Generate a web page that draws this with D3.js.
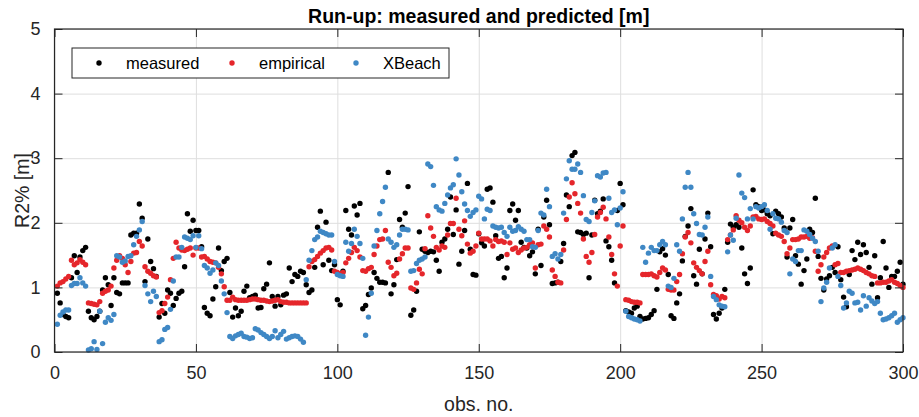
<!DOCTYPE html>
<html>
<head>
<meta charset="utf-8">
<title>Run-up: measured and predicted</title>
<script src="https://cdn.jsdelivr.net/npm/d3@7"></script>
<style>
  body { margin: 0; background: #fff; font-family: "Liberation Sans", Arial, sans-serif; }
  .grid line { stroke: #dedede; stroke-width: 1; }
  .grid path { display: none; }
  .ax path { display: none; }
  .ax line { stroke: #262626; }
  .ax text { font-size: 18px; fill: #262626; }
</style>
</head>
<body>
<div id="chart"></div>
<script>
// values, obs 1..300
var measured = [
  0.91,0.76,0.58,0.55,0.53,1.15,1.49,1.23,1.47,1.57,
  1.62,0.63,0.53,0.50,0.55,0.63,0.96,1.15,1.04,0.72,
  1.15,0.92,0.90,1.07,1.07,1.07,1.81,1.84,1.84,2.29,
  2.07,1.09,1.75,1.40,1.29,1.17,0.54,0.75,0.60,0.96,
  0.91,0.72,0.83,0.91,0.94,1.32,2.14,1.87,2.04,1.88,
  1.88,1.63,0.69,0.60,0.56,0.82,1.01,1.61,1.26,1.40,
  1.45,0.92,0.54,0.68,0.56,0.63,0.94,1.02,0.84,0.86,
  0.88,0.68,0.69,0.98,1.05,1.38,0.86,0.71,0.86,0.73,
  0.88,0.90,1.30,1.09,1.20,1.17,1.25,1.23,1.04,0.92,
  0.96,1.31,1.93,2.18,1.35,2.01,1.42,1.26,1.35,0.81,
  0.73,1.25,2.19,1.90,1.81,2.26,2.12,2.30,0.67,0.72,
  0.89,0.99,1.23,1.14,1.08,1.08,1.07,2.78,0.90,1.04,
  1.43,2.05,1.93,2.15,2.56,0.57,0.65,0.94,1.86,1.59,
  1.56,1.54,1.56,1.55,1.42,1.25,1.70,1.75,1.90,2.40,
  1.82,2.20,1.36,1.56,1.88,2.61,1.59,1.20,1.19,1.83,
  1.69,1.64,2.52,2.54,2.32,1.80,1.45,1.48,1.15,1.30,
  2.19,2.29,2.04,2.19,1.70,1.62,1.61,1.49,1.55,1.21,
  1.90,1.34,2.09,2.35,1.97,1.06,1.07,1.08,1.40,1.68,
  2.43,2.25,3.04,3.09,1.86,1.85,1.82,1.84,1.15,1.81,
  2.35,2.14,2.18,2.37,1.72,1.63,1.42,1.07,2.19,2.61,
  2.28,0.64,0.62,0.60,0.68,0.71,0.55,0.51,0.52,0.53,
  0.58,0.64,0.97,1.55,1.60,1.50,1.20,0.56,0.52,0.76,
  0.90,1.41,1.79,1.95,2.22,1.18,1.05,1.59,1.21,1.75,
  2.15,1.63,0.58,0.51,0.60,0.68,0.97,1.70,1.98,1.93,
  1.97,1.93,1.61,1.21,1.06,1.30,2.51,2.28,2.25,2.19,
  2.20,2.14,2.11,1.83,2.18,2.14,2.09,1.92,1.47,1.92,
  2.05,1.49,1.36,1.05,1.26,1.44,1.90,1.85,2.38,1.48,
  1.14,0.96,1.13,1.18,1.31,1.23,1.63,1.12,0.85,0.70,
  1.20,1.57,1.43,1.70,1.51,1.66,1.54,1.31,1.05,1.49,
  0.84,1.15,1.71,1.30,1.00,1.17,1.17,1.25,1.39,1.05
];
var empirical = [
  1.02,1.07,1.09,1.13,1.17,1.42,1.35,1.38,1.43,1.39,
  1.35,0.76,0.75,0.74,0.73,0.78,0.91,0.94,0.96,1.02,
  1.30,1.42,1.49,1.45,1.35,1.23,1.40,1.53,1.54,1.71,
  1.64,1.32,1.25,1.22,1.18,1.16,0.61,0.64,0.75,0.85,
  1.12,1.45,1.70,1.61,1.58,1.57,1.59,1.61,1.50,1.61,
  1.61,1.47,1.48,1.44,1.40,1.39,1.38,1.31,1.21,1.01,
  0.80,0.80,0.85,0.81,0.80,0.80,0.80,0.80,0.81,0.82,
  0.82,0.81,0.80,0.80,0.79,0.78,0.79,0.80,0.81,0.78,
  0.77,0.77,0.76,0.76,0.76,0.76,0.76,0.76,0.76,1.32,
  1.40,1.43,1.48,1.53,1.57,1.61,1.62,1.58,1.25,1.23,
  1.21,1.23,1.38,1.45,1.54,1.62,1.57,1.47,1.26,1.25,
  1.29,1.31,1.51,1.64,1.74,1.75,1.88,1.39,1.31,1.18,
  1.22,1.44,1.52,1.61,1.61,0.99,0.97,1.07,1.28,1.21,
  1.60,2.11,1.92,1.79,1.62,1.58,1.64,1.62,1.81,1.99,
  1.99,2.38,1.90,1.80,2.03,1.67,1.53,1.56,1.64,1.84,
  1.75,1.75,1.75,1.72,1.64,1.74,1.71,1.72,1.70,1.51,
  1.69,1.59,1.61,1.54,1.58,1.61,1.62,1.66,1.69,1.30,
  1.66,1.67,1.95,1.90,1.78,1.27,1.17,1.08,1.07,1.58,
  2.05,2.40,2.62,2.45,2.30,2.15,1.75,1.48,1.39,1.54,
  1.82,2.09,2.16,2.24,2.06,1.78,1.51,1.21,1.02,1.64,
  1.95,0.81,0.80,0.78,0.77,0.77,0.76,1.20,1.20,1.20,
  1.21,1.18,1.16,1.23,1.30,1.27,0.97,0.96,0.96,1.09,
  1.20,1.52,1.78,1.85,1.69,1.38,1.31,1.26,1.21,1.40,
  1.56,1.04,0.89,0.87,0.82,0.86,0.84,1.74,1.81,1.89,
  2.11,2.04,2.00,1.93,1.88,1.95,2.09,2.10,2.06,2.05,
  2.06,2.02,1.99,1.95,1.84,1.81,1.79,1.71,1.52,1.61,
  1.74,1.74,1.75,1.78,1.78,1.79,1.76,1.77,1.56,1.25,
  1.35,1.47,1.54,1.61,1.64,1.35,1.37,1.23,1.23,1.25,
  1.26,1.27,1.28,1.30,1.28,1.26,1.23,1.21,1.18,1.17,
  1.07,1.07,1.08,1.08,1.10,1.12,1.08,1.06,1.03,1.00
];
var xbeach = [
  0.43,0.57,0.62,0.65,0.65,1.03,1.06,1.06,1.15,1.07,
  1.02,0.03,0.05,0.16,0.04,0.63,0.13,0.46,0.53,0.49,
  0.58,1.49,1.47,1.39,1.41,1.48,1.49,1.66,1.79,1.89,
  2.02,1.03,0.90,0.78,0.94,0.86,0.16,0.19,0.35,0.38,
  0.66,1.10,1.47,1.47,1.62,1.78,1.76,1.74,1.80,1.62,
  1.80,1.60,1.34,1.30,1.22,1.27,1.38,1.34,1.10,0.90,
  0.61,0.24,0.21,0.25,0.27,0.29,0.24,0.23,0.21,0.22,
  0.36,0.34,0.30,0.27,0.24,0.21,0.24,0.33,0.22,0.27,
  0.32,0.20,0.22,0.24,0.25,0.24,0.20,0.15,1.12,1.42,
  1.57,1.74,1.78,1.87,1.85,1.83,1.81,1.81,1.40,1.20,
  1.18,1.17,1.70,1.56,1.68,1.90,1.79,1.68,1.45,0.26,
  0.54,0.91,1.64,1.88,2.14,2.33,2.55,1.75,1.70,1.62,
  1.66,1.81,1.90,1.90,1.89,1.25,1.26,1.37,1.42,1.44,
  1.47,2.91,2.87,2.58,2.25,2.20,2.18,2.30,2.43,2.54,
  2.59,2.99,2.74,2.48,2.29,2.19,2.10,2.16,2.20,2.41,
  2.37,2.06,2.21,2.19,1.95,1.93,1.92,1.93,1.85,1.79,
  1.93,1.87,1.88,1.94,1.90,1.87,1.74,1.74,1.63,1.62,
  1.88,2.15,2.12,2.52,2.25,1.48,1.52,1.44,1.51,2.15,
  2.68,2.96,2.83,2.83,2.91,2.78,2.42,2.05,2.02,2.16,
  2.34,2.73,2.71,2.77,2.78,2.38,2.16,2.20,1.97,2.23,
  2.48,0.63,0.55,0.53,0.51,0.50,0.48,1.62,1.39,1.53,
  1.62,1.57,1.57,1.66,1.71,1.66,1.02,1.00,1.14,1.66,
  1.56,2.06,2.55,2.78,2.55,2.14,1.99,1.82,1.81,1.93,
  2.09,1.17,0.86,0.81,0.73,0.71,0.70,1.55,1.81,1.73,
  2.07,2.74,2.46,2.39,2.06,2.22,2.06,2.25,2.23,2.25,
  2.28,2.19,1.90,2.14,2.07,2.06,2.01,1.88,1.85,1.21,
  1.44,1.40,1.57,1.57,1.89,1.87,1.82,1.76,1.71,1.56,
  0.78,0.99,1.08,1.30,1.61,1.66,1.17,1.03,0.68,0.76,
  0.94,0.91,0.76,0.77,0.65,0.87,0.71,0.84,0.79,0.75,
  0.78,0.60,0.50,0.51,0.53,0.56,0.60,0.46,0.50,0.53
];
var seriesNames = ["measured", "empirical", "XBeach"];
var seriesColors = ["#000000", "#e5262b", "#3f88c5"];
var xTicks = [0, 50, 100, 150, 200, 250, 300];
var yTicks = [0, 1, 2, 3, 4, 5];

var W = 919, H = 417;
var m = {left: 54.5, right: 16, top: 29, bottom: 65};
var svg = d3.select("#chart").append("svg").attr("width", W).attr("height", H);

var x = d3.scaleLinear().domain([0, 300]).range([m.left, W - m.right]);
var y = d3.scaleLinear().domain([0, 5]).range([H - m.bottom, m.top]);
var pw = x(300) - x(0), ph = y(0) - y(5);

// grid
svg.append("g").attr("class", "grid")
  .attr("transform", "translate(0," + y(0) + ")")
  .call(d3.axisBottom(x).tickValues(xTicks).tickSize(-ph).tickFormat(""));
svg.append("g").attr("class", "grid")
  .attr("transform", "translate(" + x(0) + ",0)")
  .call(d3.axisLeft(y).tickValues(yTicks).tickSize(-pw).tickFormat(""));

// points, one series after the other
var all = [measured, empirical, xbeach];
all.forEach(function(vals, k) {
  svg.append("g").selectAll("circle").data(vals).enter().append("circle")
    .attr("cx", function(d, i) { return x(i + 1); })
    .attr("cy", function(d) { return y(d); })
    .attr("r", 2.7)
    .attr("fill", seriesColors[k]);
});

// axes with inward ticks on all four sides
svg.append("g").attr("class", "ax")
  .attr("transform", "translate(0," + y(0) + ")")
  .call(d3.axisBottom(x).tickValues(xTicks).tickSizeInner(-8).tickPadding(12).tickFormat(d3.format("d")))
  .selectAll("text").attr("dy", "0.85em");
svg.append("g").attr("class", "ax")
  .attr("transform", "translate(0," + y(5) + ")")
  .call(d3.axisTop(x).tickValues(xTicks).tickSizeInner(-8).tickFormat(""));
svg.append("g").attr("class", "ax")
  .attr("transform", "translate(" + x(0) + ",0)")
  .call(d3.axisLeft(y).tickValues(yTicks).tickSizeInner(-8).tickPadding(14).tickFormat(d3.format("d")));
svg.append("g").attr("class", "ax")
  .attr("transform", "translate(" + x(300) + ",0)")
  .call(d3.axisRight(y).tickValues(yTicks).tickSizeInner(-8).tickFormat(""));

svg.append("rect")
  .attr("x", x(0)).attr("y", y(5)).attr("width", pw).attr("height", ph)
  .attr("fill", "none").attr("stroke", "#262626").attr("stroke-width", 1.2);

// labels
svg.append("text").attr("x", (x(0) + x(300)) / 2).attr("y", 23)
  .attr("text-anchor", "middle").attr("font-size", 19.5).attr("font-weight", "bold")
  .attr("fill", "#000").text("Run-up: measured and predicted [m]");
svg.append("text").attr("x", (x(0) + x(300)) / 2).attr("y", 411)
  .attr("text-anchor", "middle").attr("font-size", 19.5).attr("fill", "#262626")
  .text("obs. no.");
svg.append("text")
  .attr("transform", "translate(29," + (y(2.5)) + ") rotate(-90)")
  .attr("text-anchor", "middle").attr("font-size", 19.5).attr("fill", "#262626")
  .text("R2% [m]");

// legend
var lg = svg.append("g");
lg.append("rect").attr("x", 72).attr("y", 48).attr("width", 377).attr("height", 30)
  .attr("fill", "#fff").attr("stroke", "#262626").attr("stroke-width", 1);
var lgX = [99, 232, 356];
seriesNames.forEach(function(name, k) {
  lg.append("circle").attr("cx", lgX[k]).attr("cy", 63).attr("r", 2.7)
    .attr("fill", seriesColors[k]);
  lg.append("text").attr("x", lgX[k] + 27).attr("y", 69)
    .attr("font-size", 16.5).attr("fill", "#000").text(name);
});
</script>
</body>
</html>
